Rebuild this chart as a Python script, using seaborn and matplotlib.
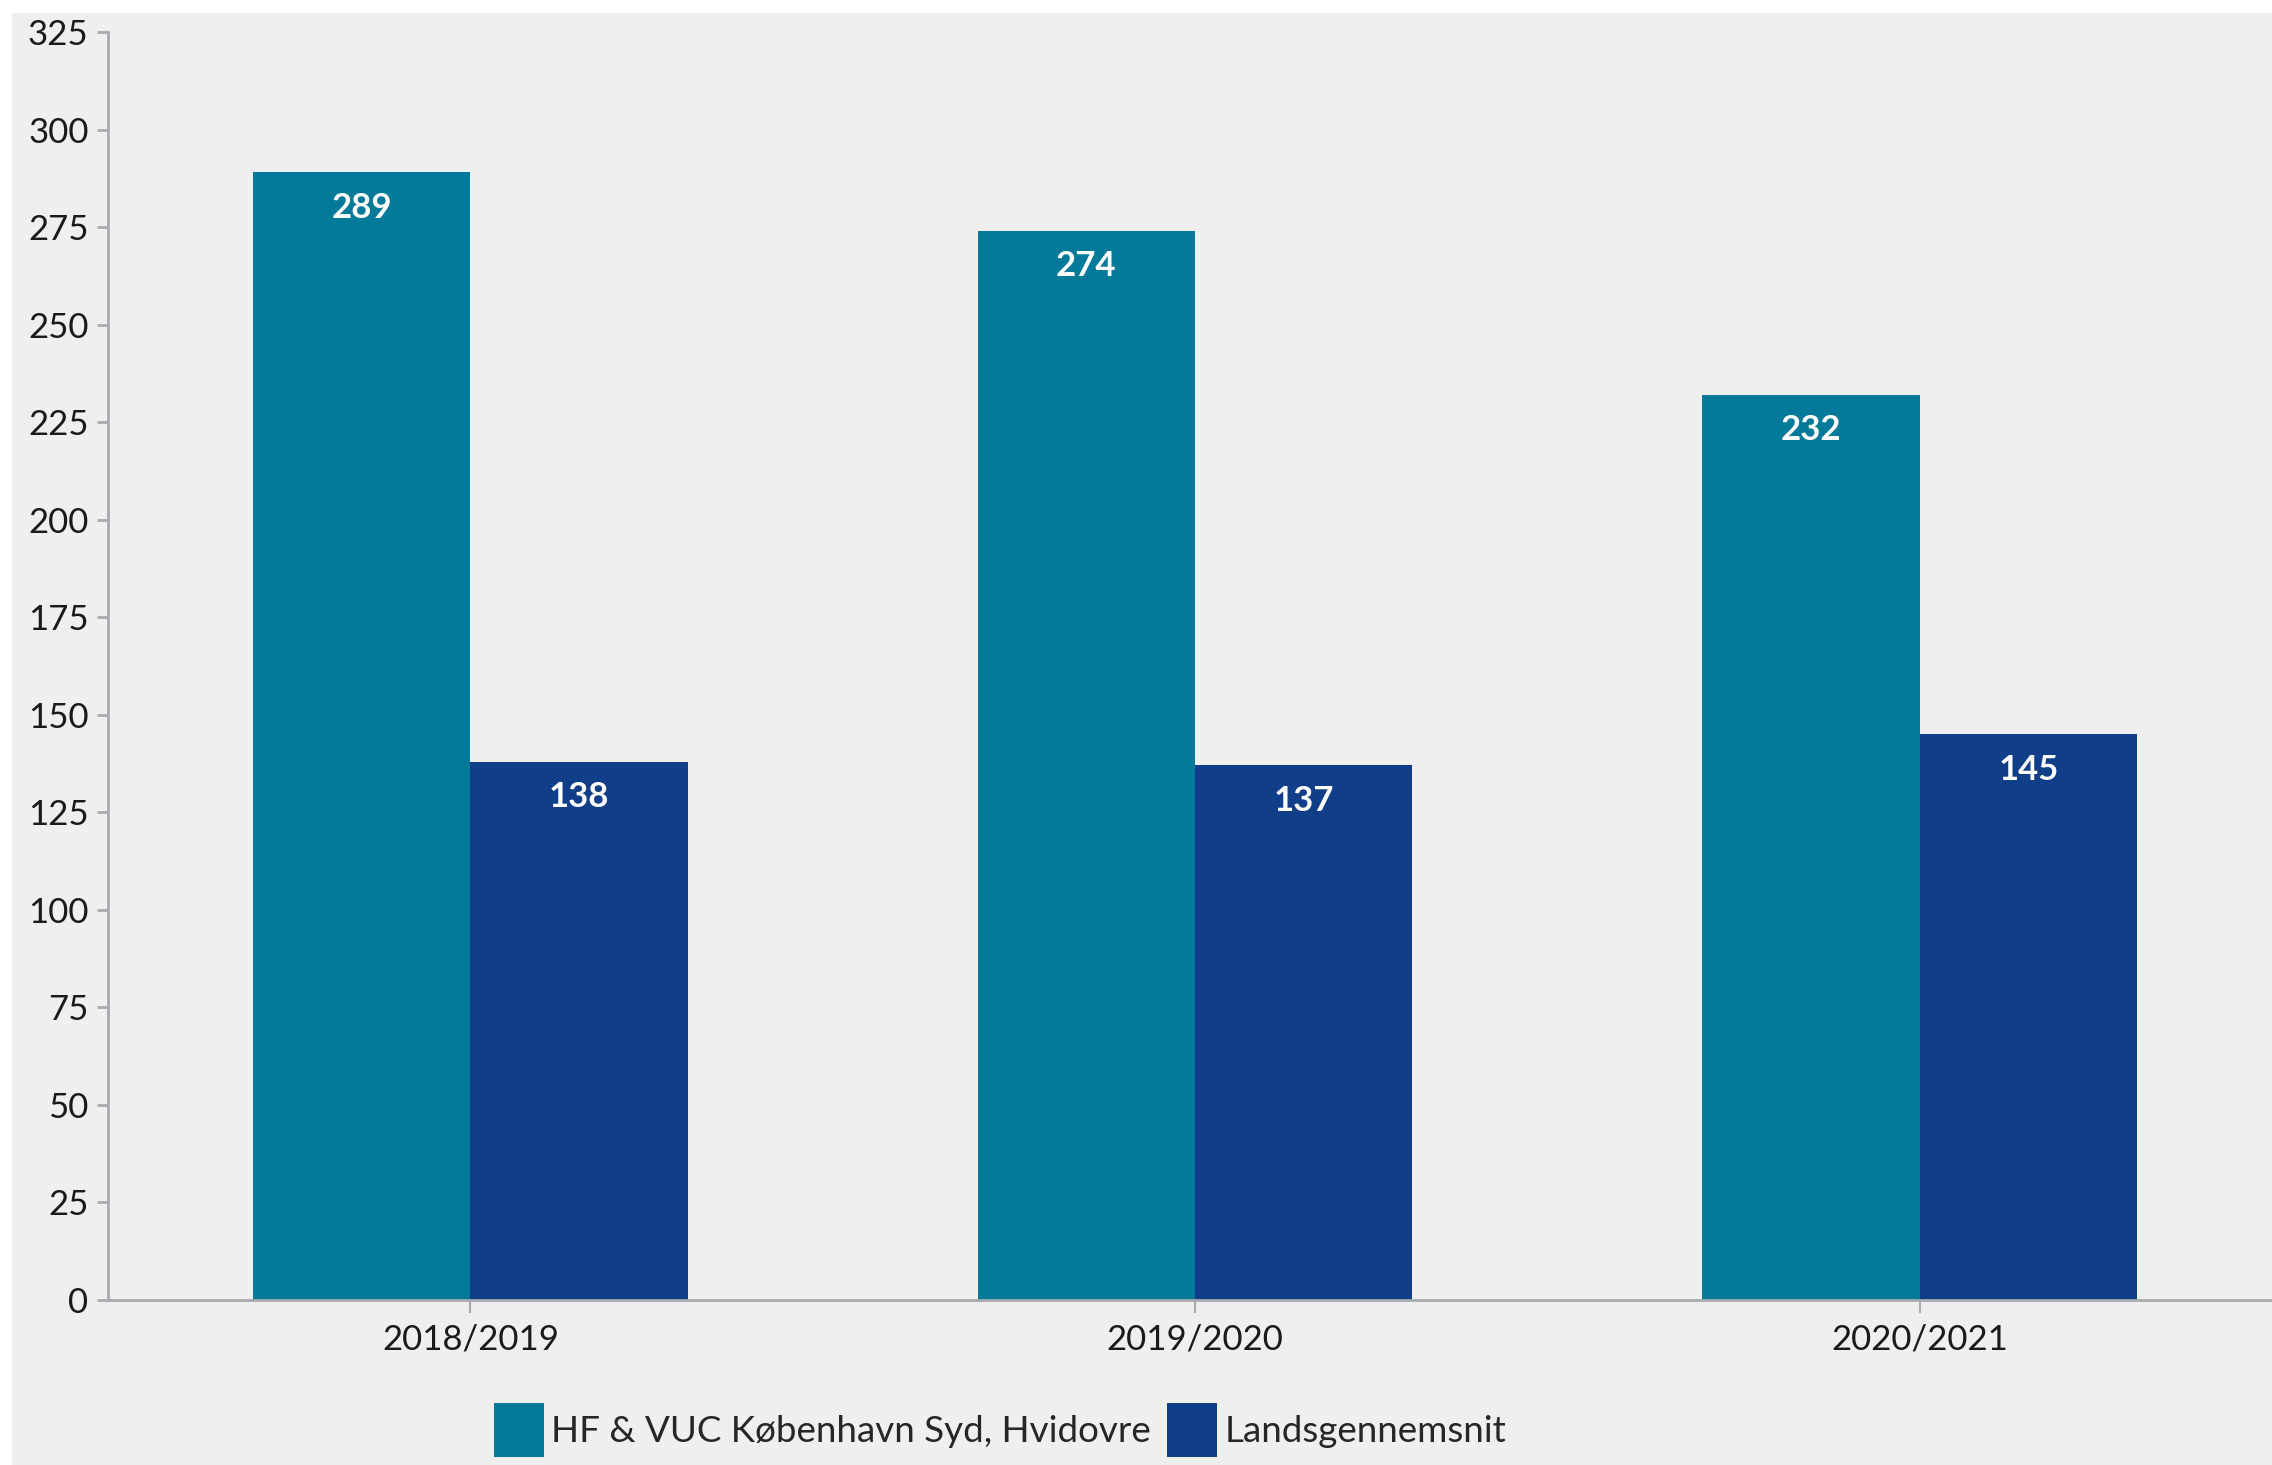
import matplotlib
matplotlib.use('Agg')
import matplotlib.pyplot as plt
from matplotlib.patches import Rectangle
import seaborn as sns
import pandas as pd

# Data
years = ['2018/2019', '2019/2020', '2020/2021']
skole = [289, 274, 232]
lands = [138, 137, 145]
series_names = ['HF & VUC København Syd, Hvidovre', 'Landsgennemsnit']
colors = ['#037a99', '#113e88']
yticks = list(range(0, 326, 25))

df = pd.DataFrame({
    'Skoleår': years * 2,
    'Antal': skole + lands,
    'Serie': [series_names[0]] * 3 + [series_names[1]] * 3,
})

bg = '#efefef'
axcol = '#a7abb0'
sns.set_theme(style='ticks')
plt.rcParams['font.family'] = ['Lato', 'DejaVu Sans']

fig = plt.figure(figsize=(22.72, 14.65), dpi=100, facecolor='white')
# grey panel behind the chart (white strip top and left)
fig.patches.append(Rectangle((12/2272, 0), 1, 1 - 13/1465, transform=fig.transFigure,
                             facecolor=bg, edgecolor='none', zorder=-10))
# axes run a little past the right edge, like the original
ax = fig.add_axes([108/2272, 1 - 1300/1465, (2282 - 108)/2272, (1300 - 32)/1465])
ax.set_facecolor(bg)

sns.barplot(data=df, x='Skoleår', y='Antal', hue='Serie', palette=colors,
            width=0.6, gap=0, saturation=1, linewidth=0, ax=ax, legend=True)

# value labels inside the bars
for cont in ax.containers:
    for bar in cont:
        h = bar.get_height()
        ax.annotate(f'{h:.0f}', (bar.get_x() + bar.get_width()/2, h),
                    xytext=(0, -14), textcoords='offset points',
                    ha='center', va='top', color='white', fontsize=25, fontweight='bold')

ax.set_ylim(0, 325)
ax.set_xlim(-0.5, 2.5)
ax.set_yticks(yticks)
ax.set_xlabel('')
ax.set_ylabel('')
for s in ['top', 'right']:
    ax.spines[s].set_visible(False)
for s in ['left', 'bottom']:
    ax.spines[s].set_color(axcol)
    ax.spines[s].set_linewidth(2)
ax.tick_params(axis='y', length=8, width=2, color=axcol, labelsize=25, labelcolor='#1a1a1a', pad=6)
ax.tick_params(axis='x', length=9, width=1.5, color=axcol, labelsize=25, labelcolor='#1a1a1a', pad=8)

handles, labels = ax.get_legend_handles_labels()
ax.legend(handles, labels, loc='center', bbox_to_anchor=(1000/2272, 1 - 1430/1465),
          bbox_transform=fig.transFigure, ncol=2, frameon=False, fontsize=26.5,
          handlelength=1.35, handleheight=1.9, handletextpad=0.2, columnspacing=0.45)

fig.savefig('out.png', dpi=100, facecolor=fig.get_facecolor())
